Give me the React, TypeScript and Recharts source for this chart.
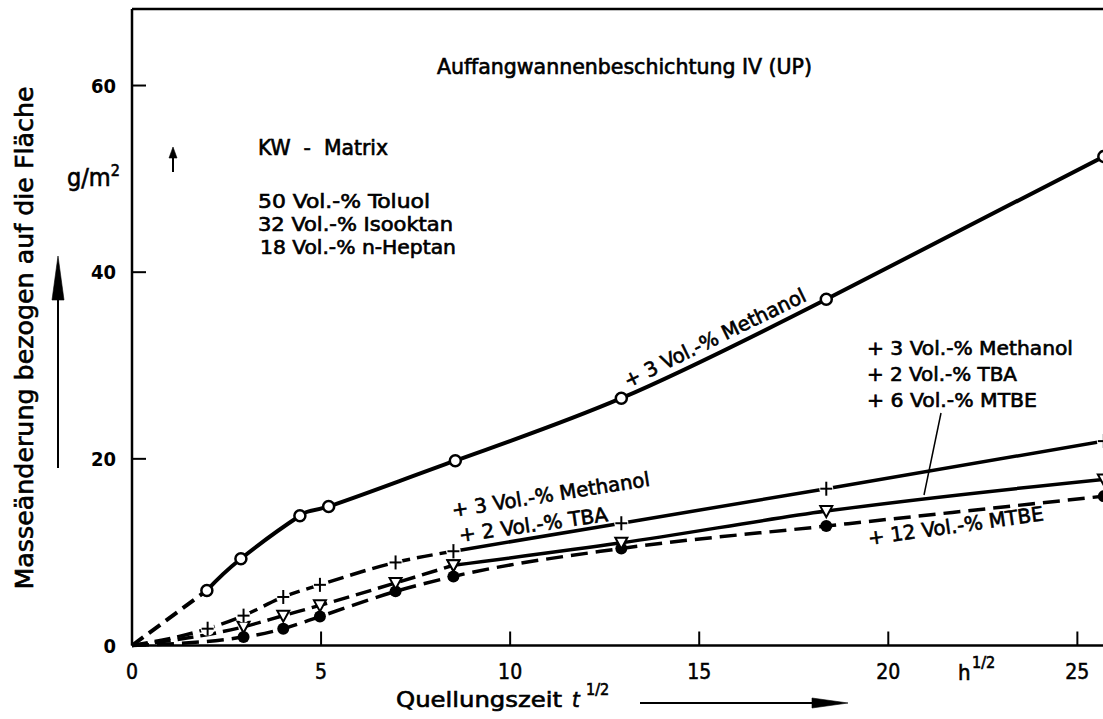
import React from 'react';
import { LineChart, Line, XAxis, YAxis, ReferenceLine } from 'recharts';

const FONT = "'DejaVu Sans Condensed', 'Liberation Sans Narrow', 'DejaVu Sans', sans-serif";

// x: Quellungszeit in h^1/2, y: Masseänderung in g/m2
const xTicks = [0, 5, 10, 15, 20, 25];
const yTicks = [0, 20, 40, 60];
const X_MAX = 27;
const Y_MAX = 68.2;

// + 3 Vol.-% Methanol (open circles)
const methX = [0, 1.98, 2.88, 4.44, 5.2, 8.55, 12.94, 18.36, 25.7];
const methY = [0, 5.9, 9.3, 13.9, 14.9, 19.8, 26.5, 37.1, 52.4];

// + 3 Vol.-% Methanol + 2 Vol.-% TBA (plus)
const tbaX = [0, 2.0, 2.95, 4.0, 4.97, 6.97, 8.5, 12.94, 18.36, 25.7];
const tbaY = [0, 1.8, 3.2, 5.2, 6.5, 8.9, 10.1, 13.1, 16.8, 21.9];

// + 3 % Methanol + 2 % TBA + 6 % MTBE (triangles)
const mtbe6X = [0, 2.95, 4.0, 4.97, 6.97, 8.5, 12.94, 18.36, 25.7];
const mtbe6Y = [0, 2.0, 3.2, 4.3, 6.7, 8.6, 11.0, 14.4, 17.8];

// + 12 Vol.-% MTBE (filled dots)
const mtbe12X = [0, 2.95, 4.0, 4.97, 6.97, 8.5, 12.94, 18.36, 25.7];
const mtbe12Y = [0, 0.9, 1.8, 3.1, 5.8, 7.4, 10.4, 12.8, 16.0];

const toPoints = (xs: number[], ys: number[]) => xs.map((x, i) => ({ x, y: ys[i] }));

const meth = toPoints(methX, methY);
const tba = toPoints(tbaX, tbaY);
const mtbe6 = toPoints(mtbe6X, mtbe6Y);
const mtbe12 = toPoints(mtbe12X, mtbe12Y);

// the curves are drawn dashed up to these points, solid afterwards
const methDash = meth.filter((p) => p.x <= 1.98);
const methSolid = meth.filter((p) => p.x >= 1.98);
const tbaDash = tba.filter((p) => p.x <= 8.5);
const tbaSolid = tba.filter((p) => p.x >= 8.5);
const mtbe6Dash = mtbe6.filter((p) => p.x <= 8.5);
const mtbe6Solid = mtbe6.filter((p) => p.x >= 8.5);

const empty = (k: any) => <g key={k} />;

const OpenCircle = (p: any) => {
  if (p.payload.x === 0) return empty(p.index);
  return <circle key={p.index} cx={p.cx} cy={p.cy} r={5.5} fill="#fff" stroke="#000" strokeWidth={2.5} />;
};

const PlusMark = (p: any) => {
  if (p.payload.x === 0) return empty(p.index);
  const { cx, cy } = p;
  return (
    <g key={p.index}>
      <circle cx={cx} cy={cy} r={7} fill="#fff" />
      <line x1={cx - 6} y1={cy} x2={cx + 6} y2={cy} stroke="#000" strokeWidth={2} />
      <line x1={cx} y1={cy - 7} x2={cx} y2={cy + 7} stroke="#000" strokeWidth={2} />
    </g>
  );
};

const TriMark = (p: any) => {
  if (p.payload.x === 0) return empty(p.index);
  const { cx, cy } = p;
  return (
    <polygon
      key={p.index}
      points={`${cx - 6},${cy - 5} ${cx + 6},${cy - 5} ${cx},${cy + 6}`}
      fill="#fff"
      stroke="#000"
      strokeWidth={2}
    />
  );
};

const DotMark = (p: any) => {
  if (p.payload.x === 0) return empty(p.index);
  return <circle key={p.index} cx={p.cx} cy={p.cy} r={6} fill="#000" />;
};

const XTick = (p: any) => (
  <text x={p.x} y={p.y + 47} textAnchor="middle" fontFamily={FONT} fontSize={21} fill="#000" stroke="#000" strokeWidth={0.5}>
    {p.payload.value}
  </text>
);

const YTick = (p: any) => (
  <text x={p.x - 30} y={p.y + 7} textAnchor="end" fontFamily={FONT} fontSize={20} fontWeight="bold" fill="#000">
    {p.payload.value}
  </text>
);

const Rot = ({ x, y, angle, len, children }: any) => (
  <text
    x={x}
    y={y}
    transform={`rotate(${angle} ${x} ${y})`}
    fontSize={20}
    textLength={len}
    lengthAdjust="spacingAndGlyphs"
  >
    {children}
  </text>
);

const Overlay = () => (
  <svg width={1103} height={719} style={{ position: 'absolute', left: 0, top: 0, pointerEvents: 'none' }}>
    <g fontFamily={FONT} fill="#000" stroke="#000" strokeWidth={0.6}>
      <text x={437} y={74} fontSize={21} textLength={375} lengthAdjust="spacingAndGlyphs">
        Auffangwannenbeschichtung IV (UP)
      </text>

      <text x={258} y={155} fontSize={21} textLength={130} lengthAdjust="spacingAndGlyphs" xmlSpace="preserve">
        KW  -  Matrix
      </text>
      <text x={258} y={208} fontSize={20} textLength={172} lengthAdjust="spacingAndGlyphs">50 Vol.-% Toluol</text>
      <text x={258} y={231} fontSize={20} textLength={195} lengthAdjust="spacingAndGlyphs">32 Vol.-% Isooktan</text>
      <text x={260} y={254} fontSize={20} textLength={196} lengthAdjust="spacingAndGlyphs">18 Vol.-% n-Heptan</text>

      <text x={67} y={186} fontSize={25}>
        g/m<tspan dy={-10} fontSize={16}>2</tspan>
      </text>
      <line x1={173} y1={172} x2={173} y2={156} strokeWidth={2} />
      <polygon points="173,147 169,158 177,158" />

      <text
        x={33}
        y={338}
        transform="rotate(-90 33 338)"
        textAnchor="middle"
        fontSize={24}
        textLength={503}
        lengthAdjust="spacingAndGlyphs"
      >
        Masseänderung bezogen auf die Fläche
      </text>
      <line x1={58} y1={468} x2={58} y2={290} strokeWidth={2} />
      <polygon points="58,256 52,300 64,300" />

      <text x={396} y={707} fontSize={22} textLength={166} lengthAdjust="spacingAndGlyphs">
        Quellungszeit
      </text>
      <text x={572} y={707} fontSize={22} fontStyle="italic">t</text>
      <text x={586} y={695} fontSize={16}>1/2</text>
      <line x1={640} y1={703} x2={815} y2={703} strokeWidth={2} />
      <polygon points="812,698 848,703 812,708" />

      <text x={958} y={680} fontSize={22}>h</text>
      <text x={972} y={668} fontSize={16}>1/2</text>

      <Rot x={628} y={388} angle={-26} len={200}>+ 3 Vol.-% Methanol</Rot>
      <Rot x={453} y={517} angle={-9} len={200}>+ 3 Vol.-% Methanol</Rot>
      <Rot x={460} y={542} angle={-8} len={150}>+ 2 Vol.-% TBA</Rot>
      <Rot x={869} y={545} angle={-8} len={177}>+ 12 Vol.-% MTBE</Rot>

      <text x={867} y={355} fontSize={20} textLength={206} lengthAdjust="spacingAndGlyphs">+ 3 Vol.-% Methanol</text>
      <text x={867} y={381} fontSize={20} textLength={150} lengthAdjust="spacingAndGlyphs">+ 2 Vol.-% TBA</text>
      <text x={867} y={407} fontSize={20} textLength={170} lengthAdjust="spacingAndGlyphs">+ 6 Vol.-% MTBE</text>
      <line x1={941} y1={413} x2={924} y2={495} strokeWidth={1.5} />
    </g>
  </svg>
);

const App = () => {
  return (
    <div style={{ position: 'absolute', left: 0, top: 0, width: 1103, height: 719, overflow: 'hidden', background: '#fff' }}>
      <LineChart width={1153} height={719} margin={{ top: 9, right: 0, bottom: 33.5, left: 52 }}>
        <XAxis
          type="number"
          dataKey="x"
          domain={[0, X_MAX]}
          ticks={xTicks}
          interval={0}
          height={40}
          tickSize={-14}
          tickMargin={0}
          axisLine={{ stroke: '#000', strokeWidth: 2.5 }}
          tickLine={{ stroke: '#000', strokeWidth: 2 }}
          tick={<XTick />}
        />
        <YAxis
          type="number"
          dataKey="y"
          domain={[0, Y_MAX]}
          ticks={yTicks}
          interval={0}
          width={80}
          tickSize={-14}
          tickMargin={0}
          axisLine={{ stroke: '#000', strokeWidth: 2.5 }}
          tickLine={{ stroke: '#000', strokeWidth: 2 }}
          tick={<YTick />}
        />
        <ReferenceLine y={Y_MAX} stroke="#000" strokeWidth={2.5} />

        <Line data={mtbe12} dataKey="y" type="monotone" stroke="#000" strokeWidth={3.5} strokeDasharray="17 8" dot={DotMark} isAnimationActive={false} />

        <Line data={mtbe6Dash} dataKey="y" type="monotone" stroke="#000" strokeWidth={3.5} strokeDasharray="16 7" dot={TriMark} isAnimationActive={false} />
        <Line data={mtbe6Solid} dataKey="y" type="monotone" stroke="#000" strokeWidth={3.5} dot={TriMark} isAnimationActive={false} />

        <Line data={tbaDash} dataKey="y" type="monotone" stroke="#000" strokeWidth={3.5} strokeDasharray="16 7" dot={PlusMark} isAnimationActive={false} />
        <Line data={tbaSolid} dataKey="y" type="monotone" stroke="#000" strokeWidth={3.5} dot={PlusMark} isAnimationActive={false} />

        <Line data={methDash} dataKey="y" type="monotone" stroke="#000" strokeWidth={4} strokeDasharray="14 7" dot={false} isAnimationActive={false} />
        <Line data={methSolid} dataKey="y" type="natural" stroke="#000" strokeWidth={4} dot={OpenCircle} isAnimationActive={false} />
      </LineChart>
      <Overlay />
    </div>
  );
};

export default App;
